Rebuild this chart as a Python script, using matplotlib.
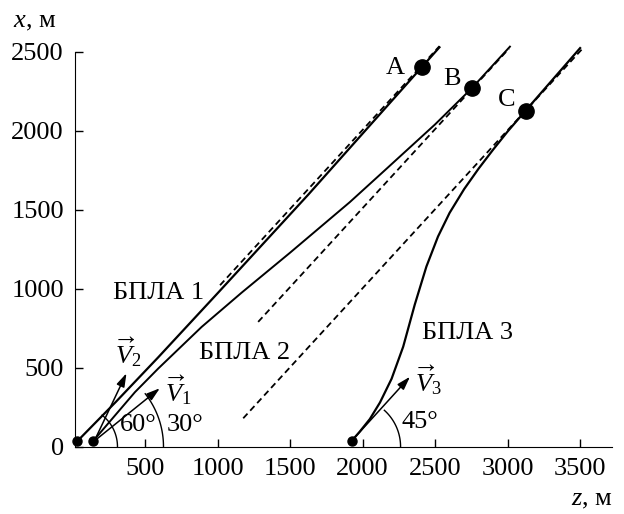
import numpy as np
import matplotlib.pyplot as plt

plt.rcParams['font.family'] = 'Liberation Serif'
plt.rcParams['mathtext.fontset'] = 'custom'
plt.rcParams['mathtext.rm'] = 'Liberation Serif'
plt.rcParams['mathtext.it'] = 'Liberation Serif:italic'

# trajectories, coordinates (z, x) in metres
uav1_z = [34, 300, 590, 1004, 1625, 2407, 2530]
uav1_x = [36, 285, 565, 975, 1595, 2401, 2528]

uav2_z = [142, 430, 590, 890, 1166, 1500, 1912, 2166, 2500, 2752, 3016]
uav2_x = [36, 345, 494, 758, 975, 1228, 1548, 1760, 2040, 2268, 2532]

uav3_z = [1924, 1980, 2050, 2120, 2200, 2280, 2360, 2440, 2520, 2600, 2700,
          2800, 2900, 3000, 3124, 3500]
uav3_x = [36, 95, 175, 280, 430, 633, 900, 1140, 1330, 1480, 1630,
          1760, 1880, 1995, 2127, 2523]

# dashed reference lines
dash_z = [[1017, 2530], [1280, 3010], [1177, 3520]]
dash_x = [[1022, 2535], [790, 2520], [180, 2523]]

# start points and end points
start_z = [34, 142, 1924]
start_x = [36, 36, 36]
end_z = [2407, 2752, 3124]
end_x = [2401, 2268, 2125]
end_names = ['A', 'B', 'C']

# velocity vectors (tail, tip)
vec_tail = [(150, 36), (150, 36), (1924, 36)]
vec_tip = [(602, 370), (372, 465), (2327, 443)]

fig = plt.figure(figsize=(6.24, 5.14), dpi=100)
ax = fig.add_axes([0.1202, 0.1309, 0.8606, 0.7808])

ax.plot(uav1_z, uav1_x, color='k', lw=1.6)
ax.plot(uav2_z, uav2_x, color='k', lw=1.4)
ax.plot(uav3_z, uav3_x, color='k', lw=1.6)
for dz, dx in zip(dash_z, dash_x):
    ax.plot(dz, dx, color='k', lw=1.3, linestyle=(0, (3.5, 2.2)))

ax.plot(start_z, start_x, 'o', color='k', ms=6.5, clip_on=False, zorder=5)
ax.plot(end_z, end_x, 'o', color='k', ms=11, zorder=5)

for (tz, tx), (hz, hx) in zip(vec_tail, vec_tip):
    ax.annotate('', xy=(hz, hx), xytext=(tz, tx),
                arrowprops=dict(arrowstyle='-|>,head_length=0.8,head_width=0.25',
                                color='k', lw=1.1, shrinkA=0, shrinkB=0))

# angle arcs (radius in pixels converted to data units)
px_z, px_x = 0.145, 0.158
for cz, r, t2 in [(34, 40, 52), (34, 86, 38), (1924, 49, 48)]:
    t = np.radians(np.linspace(0, t2, 50))
    ax.plot(cz + r / px_z * np.cos(t), r / px_x * np.sin(t), color='k', lw=1.0)

fs = 19
ax.text(278, 973, 'БПЛА 1', fontsize=fs, va='center')
ax.text(871, 593, 'БПЛА 2', fontsize=fs, va='center')
ax.text(2407, 718, 'БПЛА 3', fontsize=fs, va='center')
offsets = [(-184, -6), (-138, 57), (-131, 69)]
for z, x, n, (oz, ox) in zip(end_z, end_x, end_names, offsets):
    ax.text(z + oz, x + ox, n, fontsize=fs, ha='center', va='center')
ax.text(452, 137, '60°', fontsize=fs, ha='center', va='center')
ax.text(774, 137, '30°', fontsize=fs, ha='center', va='center')
ax.text(2395, 158, '45°', fontsize=fs, ha='center', va='center')
ax.text(728, 359, r'$\overrightarrow{V}_1$', fontsize=fs, ha='center', va='center')
ax.text(384, 601, r'$\overrightarrow{V}_2$', fontsize=fs, ha='center', va='center')
ax.text(2452, 422, r'$\overrightarrow{V}_3$', fontsize=fs, ha='center', va='center')

ax.set_xlim(17, 3720)
ax.set_ylim(0, 2540)
ax.set_xticks([500, 1000, 1500, 2000, 2500, 3000, 3500])
ax.set_yticks([0, 500, 1000, 1500, 2000, 2500])
ax.tick_params(direction='in', length=6, width=1, labelsize=fs, pad=8)
ax.spines['top'].set_visible(False)
ax.spines['right'].set_visible(False)
ax.spines['left'].set_bounds(0, 2500)

fig.text(0.021, 0.958, r'$x$, м', fontsize=fs, ha='left', va='center')
fig.text(0.982, 0.027, r'$z$, м', fontsize=fs, ha='right', va='center')

plt.savefig('out.png', dpi=100)
